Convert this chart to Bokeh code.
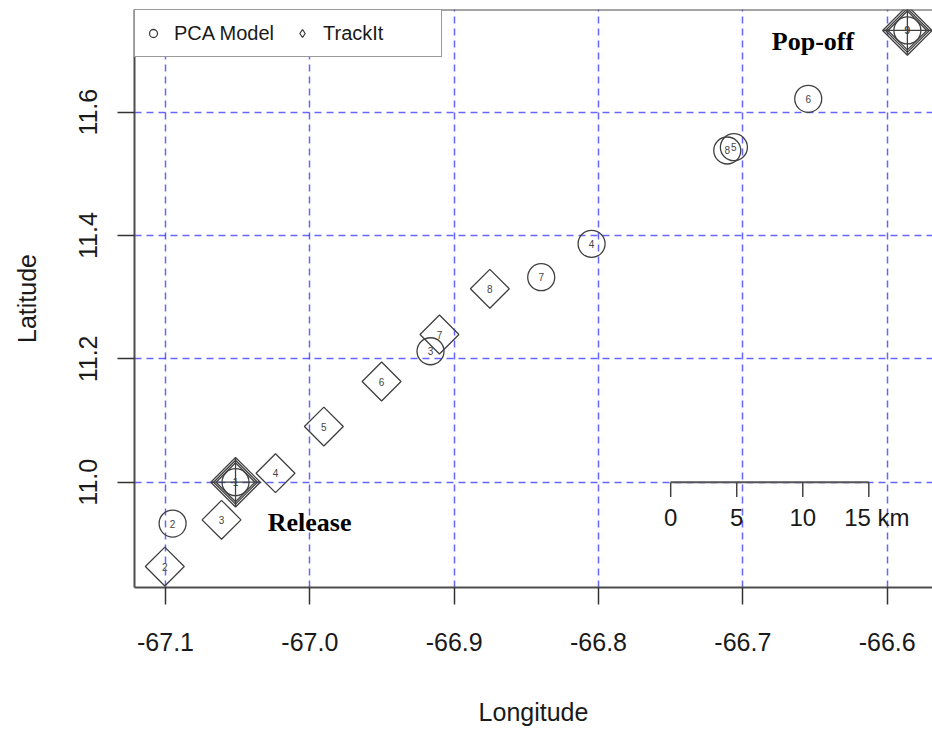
import math
from bokeh.plotting import figure
from bokeh.models import Range1d, FixedTicker, Span, Legend, LegendItem, CustomJSTickFormatter
from bokeh.core.properties import value
from bokeh.embed import file_html
from bokeh.resources import INLINE

# ---------------- data ----------------
pca_id = ["1", "2", "3", "4", "5", "6", "7", "8", "9"]
pca_lon = [-67.0515, -67.0951, -66.9164, -66.8048, -66.7062, -66.6547, -66.8397, -66.7108, -66.5860]
pca_lat = [11.0000, 10.9330, 11.2124, 11.3866, 11.5432, 11.6217, 11.3324, 11.5379, 11.7325]

trk_id = ["1", "2", "3", "4", "5", "6", "7", "8", "9"]
trk_lon = [-67.0515, -67.1005, -67.0612, -67.0238, -66.9903, -66.9503, -66.9102, -66.8753, -66.5860]
trk_lat = [11.0000, 10.8633, 10.9390, 11.0146, 11.0903, 11.1633, 11.2395, 11.3136, 11.7325]

# release / pop-off (first and last TrackIt fixes)
end_lon = [trk_lon[0], trk_lon[-1]]
end_lat = [trk_lat[0], trk_lat[-1]]

annot_text = ["Release", "Pop-off"]
annot_lon = [-67.0002, -66.6514]
annot_lat = [10.9347, 11.7140]

x_ticks = [-67.1, -67.0, -66.9, -66.8, -66.7, -66.6]
y_ticks = [11.0, 11.2, 11.4, 11.6]

scale_km = [0, 5, 10, 15]
scale_labels = ["0", "5", "10", "15 km"]
scale_lon0 = -66.750
scale_lat0 = 11.0

# ---------------- figure ----------------
FONT = "Liberation Sans"
p = figure(width=932, height=729,
           x_range=Range1d(-67.1215, -66.5686), y_range=Range1d(10.8293, 11.7665),
           output_backend="svg", toolbar_location=None,
           min_border_left=134, min_border_right=0, min_border_top=9, min_border_bottom=142,
           x_axis_label="Longitude", y_axis_label="Latitude")
p.outline_line_color = None
p.background_fill_color = "white"
p.border_fill_color = "white"

for ax in (p.xaxis[0], p.yaxis[0]):
    ax.axis_line_color = "#4d4d4d"
    ax.axis_line_width = 2
    ax.major_tick_line_color = "#333333"
    ax.major_tick_line_width = 1.5
    ax.major_tick_out = 17
    ax.major_tick_in = 0
    ax.minor_tick_out = 0
    ax.minor_tick_in = 0
    ax.major_label_text_font = FONT
    ax.major_label_text_font_size = "25px"
    ax.major_label_text_color = "#1a1a1a"
    ax.axis_label_text_font = FONT
    ax.axis_label_text_font_size = "25px"
    ax.axis_label_text_font_style = "normal"
    ax.axis_label_text_color = "#1a1a1a"
    ax.formatter = CustomJSTickFormatter(code="return tick.toFixed(1);")

p.xaxis[0].ticker = FixedTicker(ticks=x_ticks)
p.yaxis[0].ticker = FixedTicker(ticks=y_ticks)
p.xaxis[0].major_label_standoff = 28
p.xaxis[0].axis_label_standoff = 44
p.yaxis[0].major_label_orientation = "vertical"
p.yaxis[0].major_label_standoff = 20
p.yaxis[0].axis_label_standoff = 36

p.xgrid.ticker = FixedTicker(ticks=x_ticks)
p.ygrid.ticker = FixedTicker(ticks=y_ticks)
for g in (p.xgrid[0], p.ygrid[0]):
    g.grid_line_color = "blue"
    g.grid_line_alpha = 0.6
    g.grid_line_width = 1.5
    g.grid_line_dash = "7 5"

# top border of the box
p.add_layout(Span(location=p.y_range.end, dimension="width", line_color="#4d4d4d", line_width=2))

MARK = "#404040"

# release / pop-off composite symbols
p.scatter(end_lon, end_lat, marker="square_x", angle=math.pi / 4, size=35,
          fill_color=None, line_color=MARK, line_width=1.3)
p.scatter(end_lon, end_lat, marker="square", angle=math.pi / 4, size=31,
          fill_color=None, line_color=MARK, line_width=1.3)

r_trk = p.scatter(trk_lon, trk_lat, marker="square", angle=math.pi / 4, size=27.5,
                  fill_color=None, line_color=MARK, line_width=1.3)
r_pca = p.scatter(pca_lon, pca_lat, marker="circle", size=27,
                  fill_color=None, line_color=MARK, line_width=1.3)

p.text(trk_lon, trk_lat, text=trk_id, text_align="center", text_baseline="middle",
       text_font=value(FONT), text_font_size="10px", text_color="#444444")
p.text(pca_lon, pca_lat, text=pca_id, text_align="center", text_baseline="middle",
       text_font=value(FONT), text_font_size="10px", text_color="#444444")

p.text(annot_lon, annot_lat, text=annot_text, text_align="center", text_baseline="middle",
       text_font=value("Liberation Serif"), text_font_style="bold", text_font_size="26px",
       text_color="black")

# scale bar
km_per_deg = 111.32 * math.cos(math.radians(scale_lat0))
scale_lon = [scale_lon0 + k / km_per_deg for k in scale_km]
label_dx = [0, 0, 0, 8]
tick_len = 0.024
p.line([scale_lon[0], scale_lon[-1]], [scale_lat0, scale_lat0], line_color="#555555", line_width=2)
p.segment(x0=scale_lon, y0=[scale_lat0] * len(scale_lon), x1=scale_lon,
          y1=[scale_lat0 - tick_len] * len(scale_lon), line_color="#444444", line_width=1.5)
p.text(x=scale_lon, y=[scale_lat0 - 0.057] * len(scale_lon), text=scale_labels, x_offset=label_dx,
       text_align="center", text_baseline="middle", text_font=value(FONT),
       text_font_size="24px", text_color="#1a1a1a")

# legend: the diamond key comes from a zero-size diamond renderer
leg_d = p.scatter(trk_lon, trk_lat, marker="diamond", size=0, fill_color=None,
                  line_color=MARK, line_width=1.3)
legend = Legend(items=[LegendItem(label="PCA Model", renderers=[r_pca]),
                       LegendItem(label="TrackIt", renderers=[leg_d])],
                location="top_left", orientation="horizontal", margin=0, padding=8,
                spacing=8, label_standoff=11, glyph_width=20, glyph_height=20,
                label_width=110, label_height=30,
                label_text_font=FONT, label_text_font_size="20px", label_text_color="#1a1a1a",
                border_line_color="#333333", border_line_width=1.5,
                background_fill_color="white", background_fill_alpha=1.0)
p.add_layout(legend)

open("out.html", "w").write(file_html(p, INLINE))
